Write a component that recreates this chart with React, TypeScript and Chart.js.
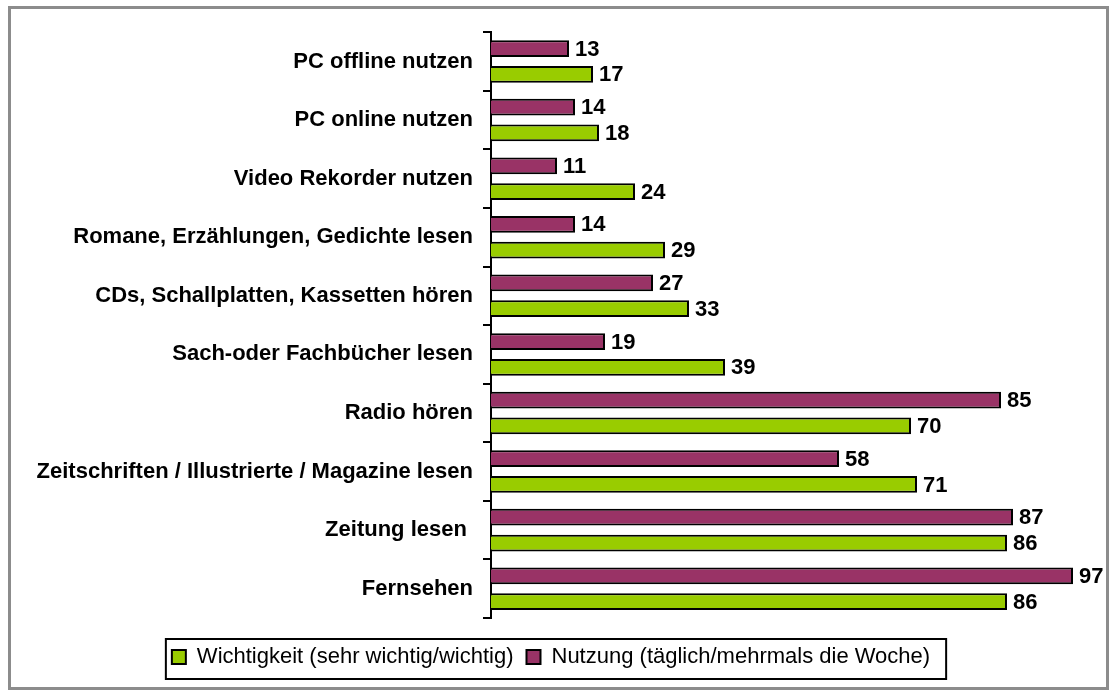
import React, { useEffect, useRef } from "react";
import { Chart, registerables } from "chart.js";

Chart.register(...registerables);

const categories = [
  "PC offline nutzen",
  "PC online nutzen",
  "Video Rekorder nutzen",
  "Romane, Erzählungen, Gedichte lesen",
  "CDs, Schallplatten, Kassetten hören",
  "Sach-oder Fachbücher lesen",
  "Radio hören",
  "Zeitschriften / Illustrierte / Magazine lesen",
  "Zeitung lesen ",
  "Fernsehen",
];
const nutzung = [13, 14, 11, 14, 27, 19, 85, 58, 87, 97];
const wichtigkeit = [17, 18, 24, 29, 33, 39, 70, 71, 86, 86];
const nutzungLabel = "Nutzung (täglich/mehrmals die Woche)";
const wichtigkeitLabel = "Wichtigkeit (sehr wichtig/wichtig)";

const FONT = "'Liberation Sans', Arial, Helvetica, sans-serif";

const valueLabels = {
  id: "valueLabels",
  afterDatasetsDraw(chart: any) {
    const ctx = chart.ctx;
    ctx.save();
    ctx.font = `bold 22px ${FONT}`;
    ctx.fillStyle = "#000";
    ctx.textAlign = "left";
    ctx.textBaseline = "middle";
    chart.data.datasets.forEach((ds: any, di: number) => {
      const meta = chart.getDatasetMeta(di);
      meta.data.forEach((el: any, i: number) => {
        ctx.fillText(String(ds.data[i]), el.x + 6, el.y + 1);
      });
    });
    ctx.restore();
  },
};

const legendBox = {
  id: "legendBox",
  afterDraw(chart: any) {
    const lg = chart.legend;
    if (!lg || !lg.legendHitBoxes || !lg.legendHitBoxes.length) return;
    const hb = lg.legendHitBoxes;
    const first = hb[0];
    const last = hb[hb.length - 1];
    const cy = first.top + first.height / 2;
    const left = first.left - 6;
    const right = last.left + last.width + 16;
    const top = cy - 18;
    const bottom = cy + 22;
    const ctx = chart.ctx;
    ctx.save();
    ctx.strokeStyle = "#000";
    ctx.lineWidth = 2;
    ctx.strokeRect(left, top, right - left, bottom - top);
    ctx.restore();
  },
};

export default function App() {
  const ref = useRef<HTMLCanvasElement | null>(null);
  useEffect(() => {
    if (!ref.current) return;
    const chart = new Chart(ref.current, {
      type: "bar",
      data: {
        labels: categories,
        datasets: [
          {
            label: nutzungLabel,
            data: nutzung,
            backgroundColor: "#993366",
            borderColor: "#000",
            borderWidth: 2,
            categoryPercentage: 0.88,
            barPercentage: 0.65,
          },
          {
            label: wichtigkeitLabel,
            data: wichtigkeit,
            backgroundColor: "#99CC00",
            borderColor: "#000",
            borderWidth: 2,
            categoryPercentage: 0.88,
            barPercentage: 0.65,
          },
        ],
      },
      options: {
        indexAxis: "y",
        responsive: false,
        animation: false,
        layout: { padding: { top: 20, right: 15, bottom: 9, left: 0 } },
        scales: {
          x: {
            min: 0,
            max: 100,
            display: true,
            ticks: { display: false },
            grid: { display: false },
            border: { display: false },
            afterFit: (s: any) => {
              s.height = 15;
            },
          },
          y: {
            grid: {
              display: true,
              drawOnChartArea: false,
              drawTicks: true,
              tickLength: 8,
              color: "#000",
              lineWidth: 2,
            },
            border: { display: true, color: "#000", width: 2 },
            ticks: {
              color: "#000",
              padding: 10,
              autoSkip: false,
              font: { family: FONT, size: 22, weight: "bold" },
            },
            afterFit: (s: any) => {
              s.width = 480;
            },
          },
        },
        plugins: {
          tooltip: { enabled: false },
          legend: {
            position: "bottom",
            reverse: true,
            labels: {
              color: "#000",
              boxWidth: 14,
              boxHeight: 14,
              padding: 13,
              font: { family: FONT, size: 22 },
            },
          },
        },
      },
      plugins: [valueLabels, legendBox],
    });
    return () => chart.destroy();
  }, []);

  return (
    <div
      style={{
        position: "absolute",
        left: 8,
        top: 6,
        width: 1101,
        height: 684,
        border: "3px solid #8c8c8c",
        boxSizing: "border-box",
        background: "#fff",
      }}
    >
      <canvas ref={ref} width={1095} height={678} style={{ display: "block", width: 1095, height: 678 }} />
    </div>
  );
}
